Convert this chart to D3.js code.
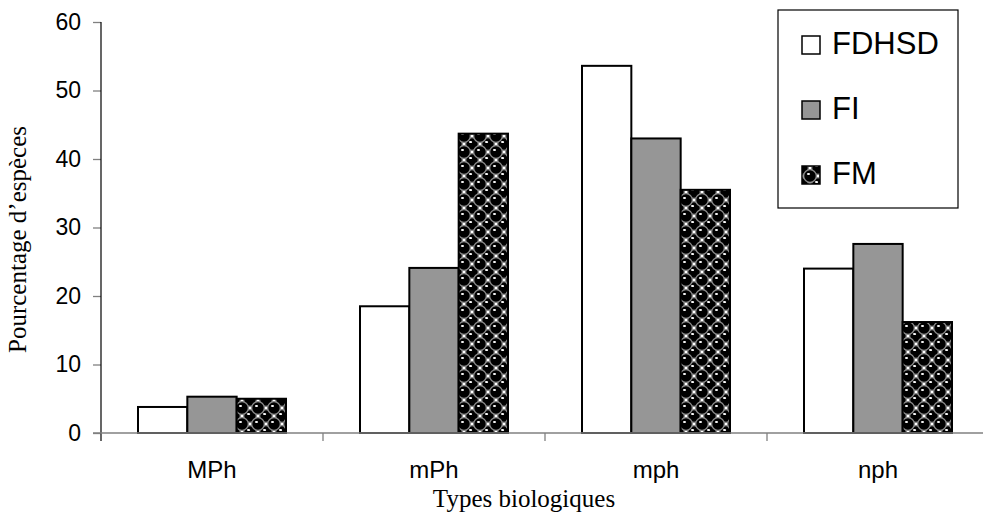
<!DOCTYPE html>
<html>
<head>
<meta charset="utf-8">
<script src="https://cdn.jsdelivr.net/npm/d3@7"></script>
<style>
  html, body { margin: 0; padding: 0; background: #fff; }
  svg { display: block; }
</style>
</head>
<body>
<div id="chart"></div>
<script>
// data
var categories = ['MPh', 'mPh', 'mph', 'nph'];
var seriesNames = ['FDHSD', 'FI', 'FM'];
var fdhsd = [3.8, 18.5, 53.6, 24.0];
var fi = [5.3, 24.1, 43.0, 27.6];
var fm = [5.0, 43.7, 35.5, 16.2];
var yTicks = [0, 10, 20, 30, 40, 50, 60];

var width = 983, height = 523;
// plot area (the category axis runs past the right edge of the picture)
var plot = {left: 101, right: 989, top: 22, bottom: 433};

var svg = d3.select('#chart').append('svg')
  .attr('width', width)
  .attr('height', height);

// sphere pattern for FM
var defs = svg.append('defs');
var pat = defs.append('pattern')
  .attr('id', 'spheres')
  .attr('patternUnits', 'userSpaceOnUse')
  .attr('width', 16)
  .attr('height', 16);
pat.append('rect').attr('width', 16).attr('height', 16).attr('fill', '#fff');
[[0, 0], [16, 0], [0, 16], [16, 16], [8, 8]].forEach(function (c) {
  pat.append('circle')
    .attr('cx', c[0]).attr('cy', c[1]).attr('r', 6.3)
    .attr('fill', '#000')
    .attr('stroke', '#8a8a8a')
    .attr('stroke-width', 1.2);
  pat.append('ellipse')
    .attr('cx', c[0] - 1.5).attr('cy', c[1] - 2).attr('rx', 1.6).attr('ry', 0.9)
    .attr('fill', '#fff');
});

var fills = ['#fff', '#969696', 'url(#spheres)'];

var x = d3.scaleBand()
  .domain(categories)
  .range([plot.left, plot.right])
  .paddingInner(1 / 3)
  .paddingOuter(1 / 6);

var x1 = d3.scaleBand()
  .domain(seriesNames)
  .range([0, x.bandwidth()]);

var y = d3.scaleLinear()
  .domain([0, 60])
  .range([plot.bottom, plot.top]);

var rows = categories.map(function (c, i) {
  return [fdhsd[i], fi[i], fm[i]].map(function (v, k) {
    return {cat: c, key: seriesNames[k], val: v, fill: fills[k]};
  });
});

// y axis
var yAxis = svg.append('g')
  .attr('transform', 'translate(' + plot.left + ',0)')
  .call(d3.axisLeft(y).tickValues(yTicks).tickSize(8).tickPadding(12).tickSizeOuter(0));
yAxis.select('.domain').remove();
yAxis.selectAll('.tick line').attr('stroke', '#808080').attr('stroke-width', 1.3);
yAxis.selectAll('.tick text')
  .attr('font-family', 'Liberation Sans, Arial, sans-serif')
  .attr('font-size', 23)
  .attr('fill', '#000');
svg.append('line')
  .attr('x1', plot.left).attr('x2', plot.left)
  .attr('y1', plot.top).attr('y2', plot.bottom + 8)
  .attr('stroke', '#000').attr('stroke-width', 1.2);

// bars
var group = svg.selectAll('g.group')
  .data(rows)
  .enter()
  .append('g')
  .attr('class', 'group')
  .attr('transform', function (d) {
    return 'translate(' + x(d[0].cat) + ',0)';
  });

group.selectAll('rect')
  .data(function (d) { return d; })
  .enter()
  .append('rect')
  .attr('x', function (d) { return x1(d.key); })
  .attr('y', function (d) { return y(d.val); })
  .attr('width', x1.bandwidth())
  .attr('height', function (d) { return y(0) - y(d.val); })
  .attr('fill', function (d) { return d.fill; })
  .attr('stroke', '#000')
  .attr('stroke-width', 2);

// x axis
svg.append('line')
  .attr('x1', plot.left - 8).attr('x2', width)
  .attr('y1', plot.bottom).attr('y2', plot.bottom)
  .attr('stroke', '#808080').attr('stroke-width', 1.5);

svg.selectAll('line.xtick')
  .data(categories.slice(1))
  .enter()
  .append('line')
  .attr('class', 'xtick')
  .attr('x1', function (d) { return x(d) - x.step() * x.paddingInner() / 2; })
  .attr('x2', function (d) { return x(d) - x.step() * x.paddingInner() / 2; })
  .attr('y1', plot.bottom).attr('y2', plot.bottom + 8)
  .attr('stroke', '#808080').attr('stroke-width', 1.3);

svg.selectAll('text.cat')
  .data(categories)
  .enter()
  .append('text')
  .attr('class', 'cat')
  .attr('x', function (d) { return x(d) + x.bandwidth() / 2; })
  .attr('y', 478)
  .attr('text-anchor', 'middle')
  .attr('font-family', 'Liberation Sans, Arial, sans-serif')
  .attr('font-size', 24)
  .text(function (d) { return d; });

// axis titles
svg.append('text')
  .attr('x', 524)
  .attr('y', 507)
  .attr('text-anchor', 'middle')
  .attr('font-family', 'Liberation Serif, Times New Roman, serif')
  .attr('font-size', 25)
  .text('Types biologiques');

svg.append('text')
  .attr('transform', 'translate(26,' + ((plot.top + plot.bottom) / 2 + 12) + ') rotate(-90)')
  .attr('text-anchor', 'middle')
  .attr('font-family', 'Liberation Serif, Times New Roman, serif')
  .attr('font-size', 25)
  .text('Pourcentage d\u2019esp\u00e8ces');

// legend
var legend = svg.append('g');
legend.append('rect')
  .attr('x', 778).attr('y', 10)
  .attr('width', 180).attr('height', 198)
  .attr('fill', '#fff')
  .attr('stroke', '#000')
  .attr('stroke-width', 1.2);

var item = legend.selectAll('g.item')
  .data(seriesNames)
  .enter()
  .append('g')
  .attr('class', 'item')
  .attr('transform', function (d, i) {
    return 'translate(802,' + (54 + i * 65) + ')';
  });

item.append('rect')
  .attr('x', 0).attr('y', -18)
  .attr('width', 18).attr('height', 18)
  .attr('fill', function (d, i) { return fills[i]; })
  .attr('stroke', '#000')
  .attr('stroke-width', 1.5);

item.append('text')
  .attr('x', 30).attr('y', 0)
  .attr('font-family', 'Liberation Sans, Arial, sans-serif')
  .attr('font-size', 31)
  .text(function (d) { return d; });
</script>
</body>
</html>
